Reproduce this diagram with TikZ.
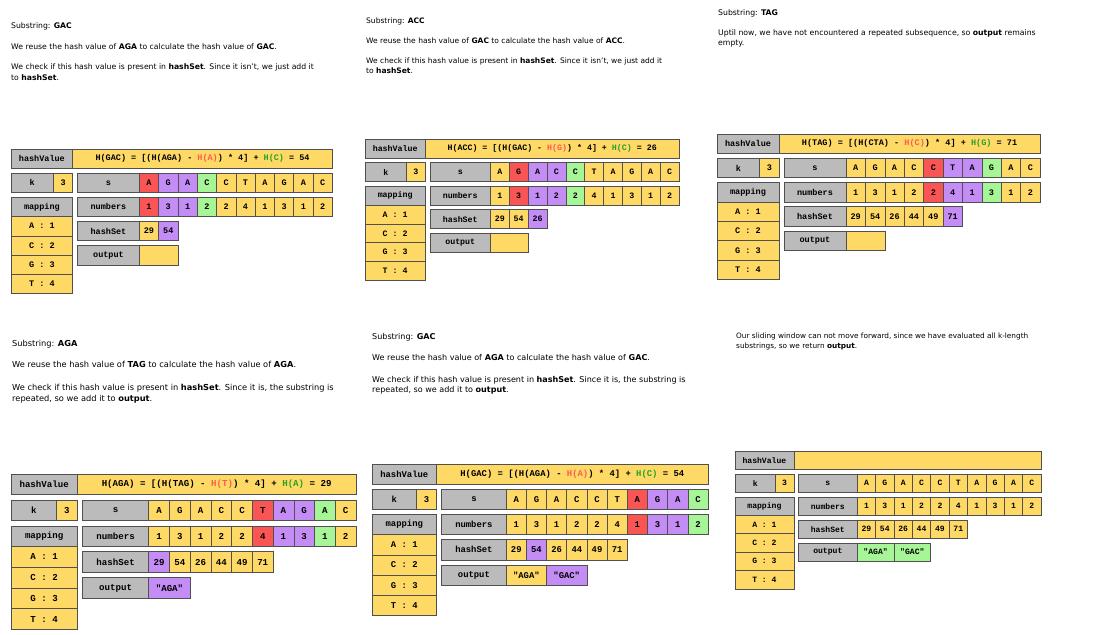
\documentclass[tikz,border=0pt]{standalone}
\usepackage{fontspec}
\setmainfont{DejaVu Sans}
\newfontfamily\codefont{Liberation Mono}
\definecolor{cellyellow}{RGB}{255,217,102}
\definecolor{cellgray}{RGB}{187,187,187}
\definecolor{cellred}{RGB}{250,85,85}
\definecolor{cellpurple}{RGB}{196,140,245}
\definecolor{cellgreen}{RGB}{166,245,150}
\definecolor{edgegray}{RGB}{80,80,80}
\definecolor{hred}{RGB}{255,90,80}
\definecolor{hgreen}{RGB}{40,160,40}

\begin{document}
\begin{tikzpicture}[x=1pt,y=-1pt,
  cell/.style={draw=edgegray,line width=0.6pt,fill=cellyellow,minimum width=20pt,minimum height=20pt,inner sep=0pt,font=\codefont\bfseries\fontsize{8.8}{10}\selectfont},
  head/.style={cell,fill=cellgray,minimum width=64pt},
  rcell/.style={cell,fill=cellred},
  pcell/.style={cell,fill=cellpurple},
  gcell/.style={cell,fill=cellgreen},
  txt/.style={anchor=mid west,inner sep=0pt,font=\fontsize{#1}{#1}\selectfont}]
\useasboundingbox (0,0) rectangle (1094,634);

%%%%%%%%%% Step: GAC (top left)
% Text Node
\node[txt=7.70] (p1sub) at (11,26) {Substring: \textbf{GAC}};
% Text Node
\node[txt=7.70] (p1reuse) at (11,47) {We reuse the hash value of \textbf{AGA} to calculate the hash value of \textbf{GAC}.};
% Text Node
\node[txt=7.70] (p1check) at (11,67) {We check if this hash value is present in \textbf{hashSet}. Since it isn't, we just add it};
% Text Node
\node[txt=7.70] (p1check2) at (11,78) {to \textbf{hashSet}.};
\begin{scope}[shift={(11,149)},scale=0.965,transform shape]
%Shape: hashValue row
\node[head] (p1hv) at (32,10) {hashValue};
\node[cell,minimum width=269pt] (p1hf) at (198.5,10) {H(GAC) = [(H(AGA) - {\color{hred}H(A)}) * 4] + {\color{hgreen}H(C)} = 54};
%Shape: k row
\node[head,minimum width=44pt] (p1k) at (22,35) {k};
\node[cell] (p1kv) at (54,35) {3};
\node[head] (p1s) at (101,35) {s};
\node[rcell] (p1s1) at (143,35) {A};
\node[pcell] (p1s2) at (163,35) {G};
\node[pcell] (p1s3) at (183,35) {A};
\node[gcell] (p1s4) at (203,35) {C};
\node[cell] (p1s5) at (223,35) {C};
\node[cell] (p1s6) at (243,35) {T};
\node[cell] (p1s7) at (263,35) {A};
\node[cell] (p1s8) at (283,35) {G};
\node[cell] (p1s9) at (303,35) {A};
\node[cell] (p1s10) at (323,35) {C};
%Shape: numbers row
\node[head] (p1m) at (32,60) {mapping};
\node[head] (p1n) at (101,60) {numbers};
\node[rcell] (p1n1) at (143,60) {1};
\node[pcell] (p1n2) at (163,60) {3};
\node[pcell] (p1n3) at (183,60) {1};
\node[gcell] (p1n4) at (203,60) {2};
\node[cell] (p1n5) at (223,60) {2};
\node[cell] (p1n6) at (243,60) {4};
\node[cell] (p1n7) at (263,60) {1};
\node[cell] (p1n8) at (283,60) {3};
\node[cell] (p1n9) at (303,60) {1};
\node[cell] (p1n10) at (323,60) {2};
%Shape: mapping column
\node[cell,minimum width=64pt] (p1ma) at (32,80) {A : 1};
\node[cell,minimum width=64pt] (p1mc) at (32,100) {C : 2};
\node[cell,minimum width=64pt] (p1mg) at (32,120) {G : 3};
\node[cell,minimum width=64pt] (p1mt) at (32,140) {T : 4};
%Shape: hashSet row
\node[head] (p1h) at (101,85) {hashSet};
\node[cell] (p1h1) at (143,85) {29};
\node[pcell] (p1h2) at (163,85) {54};
%Shape: output row
\node[head] (p1o) at (101,110) {output};
\node[cell,minimum width=40pt] (p1o1) at (153,110) {};
\end{scope}

%%%%%%%%%% Step: ACC (top middle)
% Text Node
\node[txt=7.53] (p2sub) at (366,21) {Substring: \textbf{ACC}};
% Text Node
\node[txt=7.53] (p2reuse) at (366,41) {We reuse the hash value of \textbf{GAC} to calculate the hash value of \textbf{ACC}.};
% Text Node
\node[txt=7.53] (p2check) at (366,61) {We check if this hash value is present in \textbf{hashSet}. Since it isn't, we just add it};
% Text Node
\node[txt=7.53] (p2check2) at (366,71) {to \textbf{hashSet}.};
\begin{scope}[shift={(365,139)},scale=0.943,transform shape]
%Shape: hashValue row
\node[head] (p2hv) at (32,10) {hashValue};
\node[cell,minimum width=269pt] (p2hf) at (198.5,10) {H(ACC) = [(H(GAC) - {\color{hred}H(G)}) * 4] + {\color{hgreen}H(C)} = 26};
%Shape: k row
\node[head,minimum width=44pt] (p2k) at (22,35) {k};
\node[cell] (p2kv) at (54,35) {3};
\node[head] (p2s) at (101,35) {s};
\node[cell] (p2s1) at (143,35) {A};
\node[rcell] (p2s2) at (163,35) {G};
\node[pcell] (p2s3) at (183,35) {A};
\node[pcell] (p2s4) at (203,35) {C};
\node[gcell] (p2s5) at (223,35) {C};
\node[cell] (p2s6) at (243,35) {T};
\node[cell] (p2s7) at (263,35) {A};
\node[cell] (p2s8) at (283,35) {G};
\node[cell] (p2s9) at (303,35) {A};
\node[cell] (p2s10) at (323,35) {C};
%Shape: numbers row
\node[head] (p2m) at (32,60) {mapping};
\node[head] (p2n) at (101,60) {numbers};
\node[cell] (p2n1) at (143,60) {1};
\node[rcell] (p2n2) at (163,60) {3};
\node[pcell] (p2n3) at (183,60) {1};
\node[pcell] (p2n4) at (203,60) {2};
\node[gcell] (p2n5) at (223,60) {2};
\node[cell] (p2n6) at (243,60) {4};
\node[cell] (p2n7) at (263,60) {1};
\node[cell] (p2n8) at (283,60) {3};
\node[cell] (p2n9) at (303,60) {1};
\node[cell] (p2n10) at (323,60) {2};
%Shape: mapping column
\node[cell,minimum width=64pt] (p2ma) at (32,80) {A : 1};
\node[cell,minimum width=64pt] (p2mc) at (32,100) {C : 2};
\node[cell,minimum width=64pt] (p2mg) at (32,120) {G : 3};
\node[cell,minimum width=64pt] (p2mt) at (32,140) {T : 4};
%Shape: hashSet row
\node[head] (p2h) at (101,85) {hashSet};
\node[cell] (p2h1) at (143,85) {29};
\node[cell] (p2h2) at (163,85) {54};
\node[pcell] (p2h3) at (183,85) {26};
%Shape: output row
\node[head] (p2o) at (101,110) {output};
\node[cell,minimum width=40pt] (p2o1) at (153,110) {};
\end{scope}

%%%%%%%%%% Step: TAG (top right)
% Text Node
\node[txt=7.74] (p3sub) at (718,13) {Substring: \textbf{TAG}};
% Text Node
\node[txt=7.74] (p3note) at (718,33) {Uptil now, we have not encountered a repeated subsequence, so \textbf{output} remains};
% Text Node
\node[txt=7.74] (p3note2) at (718,43) {empty.};
\begin{scope}[shift={(717,134)},scale=0.97,transform shape]
%Shape: hashValue row
\node[head] (p3hv) at (32,10) {hashValue};
\node[cell,minimum width=269pt] (p3hf) at (198.5,10) {H(TAG) = [(H(CTA) - {\color{hred}H(C)}) * 4] + {\color{hgreen}H(G)} = 71};
%Shape: k row
\node[head,minimum width=44pt] (p3k) at (22,35) {k};
\node[cell] (p3kv) at (54,35) {3};
\node[head] (p3s) at (101,35) {s};
\node[cell] (p3s1) at (143,35) {A};
\node[cell] (p3s2) at (163,35) {G};
\node[cell] (p3s3) at (183,35) {A};
\node[cell] (p3s4) at (203,35) {C};
\node[rcell] (p3s5) at (223,35) {C};
\node[pcell] (p3s6) at (243,35) {T};
\node[pcell] (p3s7) at (263,35) {A};
\node[gcell] (p3s8) at (283,35) {G};
\node[cell] (p3s9) at (303,35) {A};
\node[cell] (p3s10) at (323,35) {C};
%Shape: numbers row
\node[head] (p3m) at (32,60) {mapping};
\node[head] (p3n) at (101,60) {numbers};
\node[cell] (p3n1) at (143,60) {1};
\node[cell] (p3n2) at (163,60) {3};
\node[cell] (p3n3) at (183,60) {1};
\node[cell] (p3n4) at (203,60) {2};
\node[rcell] (p3n5) at (223,60) {2};
\node[pcell] (p3n6) at (243,60) {4};
\node[pcell] (p3n7) at (263,60) {1};
\node[gcell] (p3n8) at (283,60) {3};
\node[cell] (p3n9) at (303,60) {1};
\node[cell] (p3n10) at (323,60) {2};
%Shape: mapping column
\node[cell,minimum width=64pt] (p3ma) at (32,80) {A : 1};
\node[cell,minimum width=64pt] (p3mc) at (32,100) {C : 2};
\node[cell,minimum width=64pt] (p3mg) at (32,120) {G : 3};
\node[cell,minimum width=64pt] (p3mt) at (32,140) {T : 4};
%Shape: hashSet row
\node[head] (p3h) at (101,85) {hashSet};
\node[cell] (p3h1) at (143,85) {29};
\node[cell] (p3h2) at (163,85) {54};
\node[cell] (p3h3) at (183,85) {26};
\node[cell] (p3h4) at (203,85) {44};
\node[cell] (p3h5) at (223,85) {49};
\node[pcell] (p3h6) at (243,85) {71};
%Shape: output row
\node[head] (p3o) at (101,110) {output};
\node[cell,minimum width=40pt] (p3o1) at (153,110) {};
\end{scope}

%%%%%%%%%% Step: AGA (bottom left)
% Text Node
\node[txt=8.26] (p4sub) at (12,344) {Substring: \textbf{AGA}};
% Text Node
\node[txt=8.26] (p4reuse) at (12,365) {We reuse the hash value of \textbf{TAG} to calculate the hash value of \textbf{AGA}.};
% Text Node
\node[txt=8.26] (p4check) at (12,388) {We check if this hash value is present in \textbf{hashSet}. Since it is, the substring is};
% Text Node
\node[txt=8.26] (p4check2) at (12,399) {repeated, so we add it to \textbf{output}.};
\begin{scope}[shift={(11,474)},scale=1.036,transform shape]
%Shape: hashValue row
\node[head] (p4hv) at (32,10) {hashValue};
\node[cell,minimum width=269pt] (p4hf) at (198.5,10) {H(AGA) = [(H(TAG) - {\color{hred}H(T)}) * 4] + {\color{hgreen}H(A)} = 29};
%Shape: k row
\node[head,minimum width=44pt] (p4k) at (22,35) {k};
\node[cell] (p4kv) at (54,35) {3};
\node[head] (p4s) at (101,35) {s};
\node[cell] (p4s1) at (143,35) {A};
\node[cell] (p4s2) at (163,35) {G};
\node[cell] (p4s3) at (183,35) {A};
\node[cell] (p4s4) at (203,35) {C};
\node[cell] (p4s5) at (223,35) {C};
\node[rcell] (p4s6) at (243,35) {T};
\node[pcell] (p4s7) at (263,35) {A};
\node[pcell] (p4s8) at (283,35) {G};
\node[gcell] (p4s9) at (303,35) {A};
\node[cell] (p4s10) at (323,35) {C};
%Shape: numbers row
\node[head] (p4m) at (32,60) {mapping};
\node[head] (p4n) at (101,60) {numbers};
\node[cell] (p4n1) at (143,60) {1};
\node[cell] (p4n2) at (163,60) {3};
\node[cell] (p4n3) at (183,60) {1};
\node[cell] (p4n4) at (203,60) {2};
\node[cell] (p4n5) at (223,60) {2};
\node[rcell] (p4n6) at (243,60) {4};
\node[pcell] (p4n7) at (263,60) {1};
\node[pcell] (p4n8) at (283,60) {3};
\node[gcell] (p4n9) at (303,60) {1};
\node[cell] (p4n10) at (323,60) {2};
%Shape: mapping column
\node[cell,minimum width=64pt] (p4ma) at (32,80) {A : 1};
\node[cell,minimum width=64pt] (p4mc) at (32,100) {C : 2};
\node[cell,minimum width=64pt] (p4mg) at (32,120) {G : 3};
\node[cell,minimum width=64pt] (p4mt) at (32,140) {T : 4};
%Shape: hashSet row
\node[head] (p4h) at (101,85) {hashSet};
\node[pcell] (p4h1) at (143,85) {29};
\node[cell] (p4h2) at (163,85) {54};
\node[cell] (p4h3) at (183,85) {26};
\node[cell] (p4h4) at (203,85) {44};
\node[cell] (p4h5) at (223,85) {49};
\node[cell] (p4h6) at (243,85) {71};
%Shape: output row
\node[head] (p4o) at (101,110) {output};
\node[pcell,minimum width=40pt] (p4o1) at (153,110) {"AGA"};
\end{scope}

%%%%%%%%%% Step: GAC again (bottom middle)
% Text Node
\node[txt=8.05] (p5sub) at (372,337) {Substring: \textbf{GAC}};
% Text Node
\node[txt=8.05] (p5reuse) at (372,358) {We reuse the hash value of \textbf{AGA} to calculate the hash value of \textbf{GAC}.};
% Text Node
\node[txt=8.05] (p5check) at (372,380) {We check if this hash value is present in \textbf{hashSet}. Since it is, the substring is};
% Text Node
\node[txt=8.05] (p5check2) at (372,390) {repeated, so we add it to \textbf{output}.};
\begin{scope}[shift={(372,464)},scale=1.009,transform shape]
%Shape: hashValue row
\node[head] (p5hv) at (32,10) {hashValue};
\node[cell,minimum width=269pt] (p5hf) at (198.5,10) {H(GAC) = [(H(AGA) - {\color{hred}H(A)}) * 4] + {\color{hgreen}H(C)} = 54};
%Shape: k row
\node[head,minimum width=44pt] (p5k) at (22,35) {k};
\node[cell] (p5kv) at (54,35) {3};
\node[head] (p5s) at (101,35) {s};
\node[cell] (p5s1) at (143,35) {A};
\node[cell] (p5s2) at (163,35) {G};
\node[cell] (p5s3) at (183,35) {A};
\node[cell] (p5s4) at (203,35) {C};
\node[cell] (p5s5) at (223,35) {C};
\node[cell] (p5s6) at (243,35) {T};
\node[rcell] (p5s7) at (263,35) {A};
\node[pcell] (p5s8) at (283,35) {G};
\node[pcell] (p5s9) at (303,35) {A};
\node[gcell] (p5s10) at (323,35) {C};
%Shape: numbers row
\node[head] (p5m) at (32,60) {mapping};
\node[head] (p5n) at (101,60) {numbers};
\node[cell] (p5n1) at (143,60) {1};
\node[cell] (p5n2) at (163,60) {3};
\node[cell] (p5n3) at (183,60) {1};
\node[cell] (p5n4) at (203,60) {2};
\node[cell] (p5n5) at (223,60) {2};
\node[cell] (p5n6) at (243,60) {4};
\node[rcell] (p5n7) at (263,60) {1};
\node[pcell] (p5n8) at (283,60) {3};
\node[pcell] (p5n9) at (303,60) {1};
\node[gcell] (p5n10) at (323,60) {2};
%Shape: mapping column
\node[cell,minimum width=64pt] (p5ma) at (32,80) {A : 1};
\node[cell,minimum width=64pt] (p5mc) at (32,100) {C : 2};
\node[cell,minimum width=64pt] (p5mg) at (32,120) {G : 3};
\node[cell,minimum width=64pt] (p5mt) at (32,140) {T : 4};
%Shape: hashSet row
\node[head] (p5h) at (101,85) {hashSet};
\node[cell] (p5h1) at (143,85) {29};
\node[pcell] (p5h2) at (163,85) {54};
\node[cell] (p5h3) at (183,85) {26};
\node[cell] (p5h4) at (203,85) {44};
\node[cell] (p5h5) at (223,85) {49};
\node[cell] (p5h6) at (243,85) {71};
%Shape: output row
\node[head] (p5o) at (101,110) {output};
\node[cell,minimum width=40pt] (p5o1) at (153,110) {"AGA"};
\node[pcell,minimum width=40pt] (p5o2) at (193,110) {"GAC"};
\end{scope}

%%%%%%%%%% Step: done (bottom right)
% Text Node
\node[txt=7.33] (p6note) at (736,336) {Our sliding window can not move forward, since we have evaluated all k-length};
% Text Node
\node[txt=7.33] (p6note2) at (736,346) {substrings, so we return \textbf{output}.};
\begin{scope}[shift={(735,451)},scale=0.919,transform shape]
%Shape: hashValue row
\node[head] (p6hv) at (32,10) {hashValue};
\node[cell,minimum width=269pt] (p6hf) at (198.5,10) {};
%Shape: k row
\node[head,minimum width=44pt] (p6k) at (22,35) {k};
\node[cell] (p6kv) at (54,35) {3};
\node[head] (p6s) at (101,35) {s};
\node[cell] (p6s1) at (143,35) {A};
\node[cell] (p6s2) at (163,35) {G};
\node[cell] (p6s3) at (183,35) {A};
\node[cell] (p6s4) at (203,35) {C};
\node[cell] (p6s5) at (223,35) {C};
\node[cell] (p6s6) at (243,35) {T};
\node[cell] (p6s7) at (263,35) {A};
\node[cell] (p6s8) at (283,35) {G};
\node[cell] (p6s9) at (303,35) {A};
\node[cell] (p6s10) at (323,35) {C};
%Shape: numbers row
\node[head] (p6m) at (32,60) {mapping};
\node[head] (p6n) at (101,60) {numbers};
\node[cell] (p6n1) at (143,60) {1};
\node[cell] (p6n2) at (163,60) {3};
\node[cell] (p6n3) at (183,60) {1};
\node[cell] (p6n4) at (203,60) {2};
\node[cell] (p6n5) at (223,60) {2};
\node[cell] (p6n6) at (243,60) {4};
\node[cell] (p6n7) at (263,60) {1};
\node[cell] (p6n8) at (283,60) {3};
\node[cell] (p6n9) at (303,60) {1};
\node[cell] (p6n10) at (323,60) {2};
%Shape: mapping column
\node[cell,minimum width=64pt] (p6ma) at (32,80) {A : 1};
\node[cell,minimum width=64pt] (p6mc) at (32,100) {C : 2};
\node[cell,minimum width=64pt] (p6mg) at (32,120) {G : 3};
\node[cell,minimum width=64pt] (p6mt) at (32,140) {T : 4};
%Shape: hashSet row
\node[head] (p6h) at (101,85) {hashSet};
\node[cell] (p6h1) at (143,85) {29};
\node[cell] (p6h2) at (163,85) {54};
\node[cell] (p6h3) at (183,85) {26};
\node[cell] (p6h4) at (203,85) {44};
\node[cell] (p6h5) at (223,85) {49};
\node[cell] (p6h6) at (243,85) {71};
%Shape: output row
\node[head] (p6o) at (101,110) {output};
\node[gcell,minimum width=40pt] (p6o1) at (153,110) {"AGA"};
\node[gcell,minimum width=40pt] (p6o2) at (193,110) {"GAC"};
\end{scope}

\end{tikzpicture}
\end{document}
